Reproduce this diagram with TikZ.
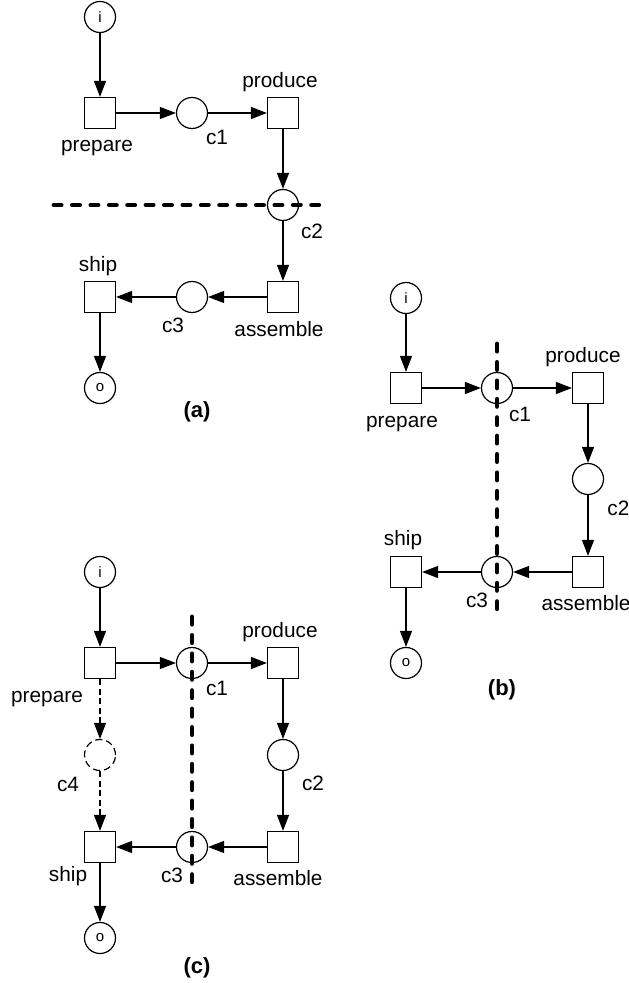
\documentclass[tikz,border=0pt]{standalone}
\usepackage{fontspec}
\setmainfont{Liberation Sans}
\usetikzlibrary{arrows.meta}
\begin{document}
\begin{tikzpicture}[x=0.5pt,y=0.5pt]
\tikzstyle{every node}+=[inner sep=0pt]
\tikzstyle{place}=[draw=black,circle,fill=white,line width=0.6pt,minimum size=15.5pt]
\tikzstyle{ghostplace}=[place,dash pattern=on 3.5pt off 2pt]
\tikzstyle{endplace}=[place,font=\fontsize{7.5}{8}\selectfont]
\tikzstyle{transition}=[draw=black,rectangle,fill=white,line width=0.6pt,minimum size=15.5pt]
\tikzstyle{lbl}=[anchor=base,font=\fontsize{10.4}{12}\selectfont]
\tikzstyle{sublbl}=[anchor=base,font=\fontsize{11}{13}\selectfont\bfseries]
\tikzstyle{flow}=[black,line width=0.6pt,-{Triangle[length=8pt,width=6pt]}]
\tikzstyle{ghostflow}=[flow,dash pattern=on 3pt off 1.75pt]
\tikzstyle{cutline}=[black,line width=2.4pt,line cap=round,dash pattern=on 3.6pt off 5.6pt]
\useasboundingbox (0,0) rectangle (628,-983);
\draw (100,-17) node [endplace] (ai) {i};
\draw (100,-113) node [transition] (aprep) {};
\draw (192,-113) node [place] (ac1) {};
\draw (283,-113) node [transition] (aprod) {};
\draw (283,-205) node [place] (ac2) {};
\draw (283,-297) node [transition] (aasm) {};
\draw (192,-297) node [place] (ac3) {};
\draw (100,-297) node [transition] (aship) {};
\draw (100,-388) node [endplace] (ao) {o};
\draw (97,-152) node [lbl] (aprepl) {prepare};
\draw (217,-145) node [lbl] (ac1l) {c1};
\draw (280,-88) node [lbl] (aprodl) {produce};
\draw (312,-239) node [lbl] (ac2l) {c2};
\draw (98,-272) node [lbl] (ashipl) {ship};
\draw (173,-333) node [lbl] (ac3l) {c3};
\draw (279,-337) node [lbl] (aasml) {assemble};
\draw (197,-417) node [sublbl] (atitle) {(a)};
\draw [flow] (ai) -- (aprep);
\draw [flow] (aprep) -- (ac1);
\draw [flow] (ac1) -- (aprod);
\draw [flow] (aprod) -- (ac2);
\draw [flow] (ac2) -- (aasm);
\draw [flow] (aasm) -- (ac3);
\draw [flow] (ac3) -- (aship);
\draw [flow] (aship) -- (ao);
\coordinate (acut1) at (54,-205);
\coordinate (acut2) at (325,-205);
\draw [cutline] (acut1) -- (acut2);
\draw (406,-298) node [endplace] (bi) {i};
\draw (406,-388) node [transition] (bprep) {};
\draw (497,-388) node [place] (bc1) {};
\draw (588,-388) node [transition] (bprod) {};
\draw (588,-479) node [place] (bc2) {};
\draw (588,-572) node [transition] (basm) {};
\draw (497,-572) node [place] (bc3) {};
\draw (406,-572) node [transition] (bship) {};
\draw (406,-663) node [endplace] (bo) {o};
\draw (402,-427) node [lbl] (bprepl) {prepare};
\draw (520,-422) node [lbl] (bc1l) {c1};
\draw (583,-363) node [lbl] (bprodl) {produce};
\draw (607,-515) node [lbl,anchor=base west] (bc2l) {c2};
\draw (403,-545) node [lbl] (bshipl) {ship};
\draw (477,-607) node [lbl] (bc3l) {c3};
\draw (586,-610) node [lbl] (basml) {assemble};
\draw (502,-695) node [sublbl] (btitle) {(b)};
\draw [flow] (bi) -- (bprep);
\draw [flow] (bprep) -- (bc1);
\draw [flow] (bc1) -- (bprod);
\draw [flow] (bprod) -- (bc2);
\draw [flow] (bc2) -- (basm);
\draw [flow] (basm) -- (bc3);
\draw [flow] (bc3) -- (bship);
\draw [flow] (bship) -- (bo);
\coordinate (bcut1) at (497,-344);
\coordinate (bcut2) at (497,-611);
\draw [cutline] (bcut1) -- (bcut2);
\draw (100,-572) node [endplace] (ci) {i};
\draw (100,-663) node [transition] (cprep) {};
\draw (192,-663) node [place] (cc1) {};
\draw (283,-663) node [transition] (cprod) {};
\draw (283,-755) node [place] (cc2) {};
\draw (100,-755) node [ghostplace] (cc4) {};
\draw (283,-847) node [transition] (casm) {};
\draw (192,-847) node [place] (cc3) {};
\draw (100,-847) node [transition] (cship) {};
\draw (100,-938) node [endplace] (co) {o};
\draw (47,-702) node [lbl] (cprepl) {prepare};
\draw (217,-695) node [lbl] (cc1l) {c1};
\draw (280,-637) node [lbl] (cprodl) {produce};
\draw (68,-791) node [lbl] (cc4l) {c4};
\draw (313,-790) node [lbl] (cc2l) {c2};
\draw (68,-881) node [lbl] (cshipl) {ship};
\draw (172,-882) node [lbl] (cc3l) {c3};
\draw (278,-885) node [lbl] (casml) {assemble};
\draw (197,-973) node [sublbl] (ctitle) {(c)};
\draw [flow] (ci) -- (cprep);
\draw [flow] (cprep) -- (cc1);
\draw [flow] (cc1) -- (cprod);
\draw [flow] (cprod) -- (cc2);
\draw [flow] (cc2) -- (casm);
\draw [flow] (casm) -- (cc3);
\draw [flow] (cc3) -- (cship);
\draw [flow] (cship) -- (co);
\draw [ghostflow] (cprep) -- (cc4);
\draw [ghostflow] (cc4) -- (cship);
\coordinate (ccut1) at (192,-617);
\coordinate (ccut2) at (192,-888);
\draw [cutline] (ccut1) -- (ccut2);
\end{tikzpicture}
\end{document}
